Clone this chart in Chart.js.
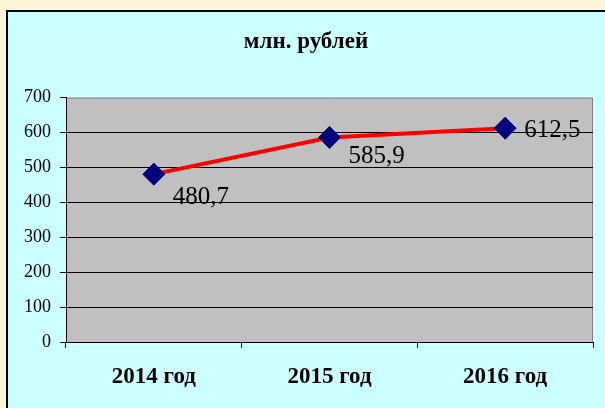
<!DOCTYPE html>
<html>
<head>
<meta charset="utf-8">
<script src="https://cdn.jsdelivr.net/npm/chart.js@4"></script>
<style>
    html, body { margin: 0; padding: 0; }
    body { width: 605px; height: 408px; background: #fbf6d5; position: relative; overflow: hidden; }
    #frame { position: absolute; left: 6px; top: 10px; width: 620px; height: 420px; background: #ccffff; border: 2px solid #000; }
    #wrap { position: absolute; left: 0; top: 0; width: 605px; height: 408px; }
</style>
</head>
<body>
<div id="frame"></div>
<div id="wrap"><canvas id="chartRubles" width="605" height="408"></canvas></div>
<script>
// Данные
const years = ['2014 год', '2015 год', '2016 год'];
const values = [480.7, 585.9, 612.5];
const valueLabels = ['480,7', '585,9', '612,5'];

const SERIF = '"Liberation Serif", "Times New Roman", serif';

// фон области построения + рамка
const plotBg = {
    id: 'plotBg',
    beforeDraw(chart) {
        const { ctx, chartArea: a } = chart;
        ctx.save();
        ctx.fillStyle = '#c0c0c0';
        ctx.fillRect(a.left, a.top, a.right - a.left, a.bottom - a.top);
        ctx.strokeStyle = '#808080';
        ctx.lineWidth = 1;
        ctx.beginPath();
        ctx.moveTo(a.left, a.top + 0.5);
        ctx.lineTo(a.right - 0.5, a.top + 0.5);
        ctx.lineTo(a.right - 0.5, a.bottom);
        ctx.stroke();
        ctx.restore();
    }
};

// подписи значений
const valueText = {
    id: 'valueText',
    afterDatasetsDraw(chart) {
        const { ctx } = chart;
        const meta = chart.getDatasetMeta(0);
        const shifts = [[19, 30], [19, 26], [19, 9]];
        ctx.save();
        ctx.font = '25px ' + SERIF;
        ctx.fillStyle = '#000';
        ctx.textAlign = 'left';
        ctx.textBaseline = 'alphabetic';
        meta.data.forEach((pt, i) => {
            ctx.fillText(valueLabels[i], pt.x + shifts[i][0], pt.y + shifts[i][1]);
        });
        ctx.restore();
    }
};

new Chart(document.getElementById('chartRubles'), {
    type: 'line',
    data: {
        labels: years,
        datasets: [{
            data: values,
            borderColor: '#ff0000',
            borderWidth: 4,
            tension: 0,
            pointStyle: 'rectRot',
            pointRadius: 11,
            pointHoverRadius: 11,
            pointBackgroundColor: '#000080',
            pointBorderColor: '#000080',
            pointBorderWidth: 1
        }]
    },
    options: {
        responsive: false,
        animation: false,
        devicePixelRatio: 1,
        layout: { padding: { left: 19, right: 12, top: 0, bottom: 0 } },
        plugins: {
            legend: { display: false },
            tooltip: { enabled: false },
            title: {
                display: true,
                text: 'млн. рублей',
                color: '#000',
                font: { family: SERIF, size: 23, weight: 'bold' },
                padding: { top: 28, bottom: 42 }
            }
        },
        scales: {
            x: {
                offset: true,
                grid: { display: true, offset: true, drawOnChartArea: false, color: '#000', tickLength: 6 },
                border: { color: '#000', width: 1 },
                ticks: { color: '#000', padding: 15, maxRotation: 0, font: { family: SERIF, size: 23, weight: 'bold' } },
                afterFit(scale) { scale.height = 66; }
            },
            y: {
                min: 0,
                max: 700,
                ticks: { stepSize: 100, color: '#000', padding: 9, font: { family: SERIF, size: 18 } },
                grid: {
                    color: (c) => (c.tick && c.tick.value === 700) ? 'rgba(0,0,0,0)' : '#000',
                    tickColor: '#000',
                    tickLength: 6,
                    lineWidth: 1
                },
                border: { color: '#000', width: 1 },
                afterFit(scale) { scale.width = 47; }
            }
        }
    },
    plugins: [plotBg, valueText]
});
</script>
</body>
</html>
